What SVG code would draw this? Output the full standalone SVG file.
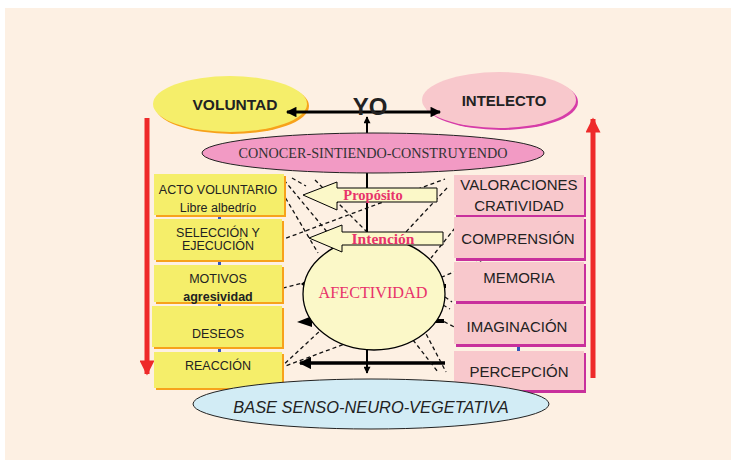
<svg xmlns="http://www.w3.org/2000/svg" width="731" height="460" viewBox="0 0 731 460">
<defs>
<style>
.sans{font-family:"Liberation Sans",Arial,sans-serif;fill:#222}
.serif{font-family:"Liberation Serif","Times New Roman",serif}
.ybox{fill:#F5EE6A}
.yshd{fill:#F7A21B}
.pbox{fill:#F8C8CC}
.pshd{fill:#C8309C}
.dash{stroke:#111;stroke-width:1.3;stroke-dasharray:4 3;fill:none}
.blk{stroke:#000;fill:none}
.red{stroke:#EE2A2A;stroke-width:5;fill:none}
.lt{font-size:12.5px}
.rt{font-size:15px}
</style>
<marker id="ah" viewBox="0 0 10 10" refX="9" refY="5" markerWidth="4" markerHeight="3.5" orient="auto-start-reverse" markerUnits="strokeWidth">
<path d="M0,0 L10,5 L0,10 z" fill="#000"/>
</marker>
<marker id="rh" viewBox="0 0 10 10" refX="9" refY="5" markerWidth="3.2" markerHeight="3" orient="auto" markerUnits="strokeWidth">
<path d="M0,0 L10,5 L0,10 z" fill="#EE2A2A"/>
</marker>
</defs>
<rect x="0" y="0" width="731" height="460" fill="#fff"/>
<rect x="5" y="8" width="726" height="452" fill="#FDF0E3"/>

<g id="voluntad">
<ellipse cx="232" cy="106" rx="77" ry="28" fill="#F7A21B"/>
<ellipse cx="230" cy="104" rx="77" ry="28" fill="#F5EE6A"/>
<text x="235" y="110" class="sans" font-size="15.5" font-weight="bold" text-anchor="middle" fill="#111">VOLUNTAD</text>
</g>

<g id="intelecto">
<ellipse cx="501" cy="102" rx="77" ry="28" fill="#D63CA8"/>
<ellipse cx="499" cy="100" rx="77" ry="28" fill="#F8C8CC"/>
<text x="504" y="106" class="sans" font-size="15" font-weight="bold" text-anchor="middle" fill="#111">INTELECTO</text>
</g>

<g id="connectors">
<line x1="287" y1="112" x2="440" y2="112" class="blk" stroke-width="3" marker-start="url(#ah)" marker-end="url(#ah)"/>
<line x1="367" y1="133" x2="367" y2="117" class="blk" stroke-width="2" marker-end="url(#ah)"/>
<line x1="367" y1="173" x2="367" y2="373" class="blk" stroke-width="2" marker-end="url(#ah)"/>
<line x1="445" y1="363" x2="300" y2="363" class="blk" stroke-width="3.5" marker-end="url(#ah)"/>
<line x1="147" y1="118" x2="147" y2="374" class="red" marker-end="url(#rh)"/>
<line x1="593" y1="378" x2="593" y2="119" class="red" marker-end="url(#rh)"/>
<g class="dash">
<line x1="284" y1="180" x2="328" y2="233"/>
<line x1="282" y1="192" x2="318" y2="253"/>
<line x1="292" y1="178" x2="306" y2="186"/>
<line x1="315" y1="180" x2="367" y2="232"/>
<line x1="273" y1="243" x2="445" y2="179"/>
<line x1="447" y1="188" x2="404" y2="234"/>
<line x1="455" y1="228" x2="431" y2="258"/>
<line x1="490" y1="257" x2="442" y2="277"/>
<line x1="460" y1="330" x2="443" y2="321"/>
<line x1="445" y1="297" x2="452" y2="302"/>
<line x1="443" y1="305" x2="450" y2="309"/>
<line x1="423" y1="328" x2="446" y2="372"/>
<line x1="413" y1="340" x2="438" y2="372"/>
<line x1="280" y1="368" x2="323" y2="328"/>
<line x1="280" y1="368" x2="350" y2="342"/>
<line x1="276" y1="290" x2="303" y2="283"/>
</g>
<path d="M297,322 L312,316 L312,327 z" fill="#000"/>
<path d="M301,284 L306,280 L306,288 z" fill="#000"/>
<rect x="432" y="319" width="12" height="4" fill="#000"/>
<rect x="442" y="284" width="4" height="4" fill="#000"/>
</g>

<g id="yo">
<text x="370" y="115" class="sans" font-size="24" font-weight="bold" text-anchor="middle" fill="#111">YO</text>
</g>

<g id="conocer">
<ellipse cx="373" cy="153" rx="171" ry="20" fill="#F29AC4" stroke="#222" stroke-width="1"/>
<text x="373" y="158" class="serif" font-size="14.2" text-anchor="middle" fill="#333">CONOCER-SINTIENDO-CONSTRUYENDO</text>
</g>

<g id="afectividad">
<ellipse cx="374" cy="294" rx="71" ry="56" fill="#FBF8C8" stroke="#000" stroke-width="1.3"/>
<text x="373" y="298" class="serif" font-size="16.2" text-anchor="middle" fill="#E8336B">AFECTIVIDAD</text>
</g>

<g id="proposito">
<path d="M303,195 L337,182 L337,188 L437,188 L437,202 L337,202 L337,210 z" fill="#FBF8C8" stroke="#000" stroke-width="1"/>
<text x="373" y="200" class="serif" font-size="14.5" font-weight="bold" text-anchor="middle" fill="#E8336B">Propósito</text>
</g>

<g id="intencion">
<path d="M309,238 L342,225 L342,232 L443,232 L443,245 L342,245 L342,252 z" fill="#FBF8C8" stroke="#000" stroke-width="1"/>
<text x="383" y="244" class="serif" font-size="15.5" font-weight="bold" text-anchor="middle" fill="#E8336B">Intención</text>
</g>

<g id="left-boxes">
<rect x="218" y="215" width="3" height="4" fill="#3355BB"/>
<rect x="218" y="261" width="3" height="4" fill="#3355BB"/>
<rect x="218" y="302" width="3" height="4" fill="#3355BB"/>
<rect x="218" y="347" width="3" height="5" fill="#3355BB"/>
<g id="acto">
<rect x="156" y="176" width="130" height="41" class="yshd"/>
<rect x="154" y="174" width="130" height="41" class="ybox"/>
<text x="218" y="194" class="sans lt" text-anchor="middle">ACTO VOLUNTARIO</text>
<text x="218" y="212" class="sans lt" text-anchor="middle">Libre albedrío</text>
</g>
<g id="seleccion">
<rect x="156" y="221" width="128" height="41" class="yshd"/>
<rect x="154" y="219" width="128" height="41" class="ybox"/>
<text x="218" y="237" class="sans lt" text-anchor="middle">SELECCIÓN Y</text>
<text x="218" y="250" class="sans lt" text-anchor="middle">EJECUCIÓN</text>
</g>
<g id="motivos">
<rect x="156" y="267" width="128" height="37" class="yshd"/>
<rect x="154" y="265" width="128" height="37" class="ybox"/>
<text x="218" y="283" class="sans lt" text-anchor="middle">MOTIVOS</text>
<text x="218" y="301" class="sans lt" font-weight="bold" text-anchor="middle">agresividad</text>
</g>
<g id="deseos">
<rect x="154" y="308" width="130" height="41" class="yshd"/>
<rect x="152" y="306" width="130" height="41" class="ybox"/>
<text x="218" y="338" class="sans lt" text-anchor="middle">DESEOS</text>
</g>
<g id="reaccion">
<rect x="156" y="354" width="128" height="36" class="yshd"/>
<rect x="154" y="352" width="128" height="36" class="ybox"/>
<text x="218" y="370" class="sans lt" text-anchor="middle">REACCIÓN</text>
</g>
</g>

<g id="right-boxes">
<rect x="517" y="215" width="3" height="3" fill="#3355BB"/>
<rect x="517" y="302" width="3" height="3" fill="#3355BB"/>
<rect x="517" y="346" width="3" height="5" fill="#3355BB"/>
<g id="valoraciones">
<rect x="456" y="177" width="130" height="40" class="pshd"/>
<rect x="454" y="175" width="130" height="40" class="pbox"/>
<text x="519" y="190" class="sans rt" text-anchor="middle">VALORACIONES</text>
<text x="519" y="211" class="sans rt" text-anchor="middle">CRATIVIDAD</text>
</g>
<g id="comprension">
<rect x="456" y="219" width="130" height="42" class="pshd"/>
<rect x="454" y="217" width="130" height="41" class="pbox"/>
<text x="518" y="244" class="sans rt" text-anchor="middle">COMPRENSIÓN</text>
</g>
<g id="memoria">
<rect x="456" y="264" width="130" height="40" class="pshd"/>
<rect x="454" y="262" width="130" height="39" class="pbox"/>
<text x="519" y="283" class="sans rt" text-anchor="middle">MEMORIA</text>
</g>
<g id="imaginacion">
<rect x="456" y="306" width="130" height="41" class="pshd"/>
<rect x="454" y="304" width="130" height="40" class="pbox"/>
<text x="517" y="332" class="sans rt" text-anchor="middle">IMAGINACIÓN</text>
</g>
<g id="percepcion">
<rect x="456" y="353" width="130" height="40" class="pshd"/>
<rect x="454" y="351" width="130" height="39" class="pbox"/>
<text x="519" y="377" class="sans rt" text-anchor="middle">PERCEPCIÓN</text>
</g>
</g>

<g id="base">
<ellipse cx="371" cy="404" rx="178" ry="25" fill="#D2ECF5" stroke="#222" stroke-width="1"/>
<text x="371" y="413" class="sans" font-size="16.4" font-style="italic" text-anchor="middle" fill="#111">BASE SENSO-NEURO-VEGETATIVA</text>
</g>
</svg>
